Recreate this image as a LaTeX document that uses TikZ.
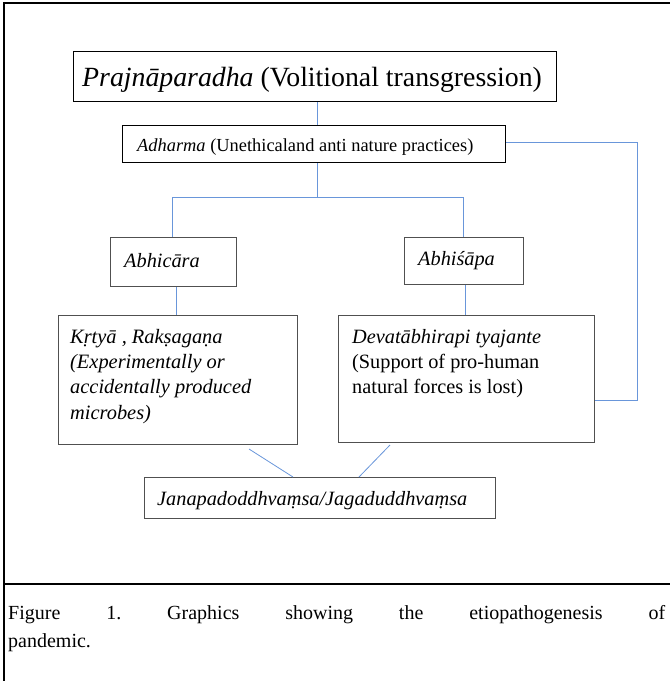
\documentclass[tikz,border=0pt]{standalone}
\usepackage{fontspec}
\setmainfont{Liberation Serif}
\usetikzlibrary{calc}
\definecolor{conn}{RGB}{105,150,218}
\definecolor{boxgray}{RGB}{80,80,80}
\tikzset{
  topbox/.style={draw=black, line width=1.2pt, rectangle, inner sep=0pt, anchor=north west},
  subbox/.style={draw=boxgray, line width=1pt, rectangle, inner sep=0pt, anchor=north west},
  link/.style={draw=conn, line width=0.8pt},
  frame/.style={draw=black, line width=2pt}
}
\begin{document}
\frenchspacing
\begin{tikzpicture}[x=1pt,y=-1pt]
\useasboundingbox (0,0) rectangle (670,681);
% outer frame
\draw[frame] (4,681) -- (4,3) -- (670,3);
\draw[frame] (4,584) -- (670,584);
% boxes
\node[topbox, minimum width=483pt, minimum height=50pt] (prajna) at (73,51) {};
\node[anchor=west, inner sep=0pt, font=\fontsize{27.8}{32}\selectfont] (prajnat) at (82,80) {\textit{Prajnāparadha} (Volitional transgression)};
\node[topbox, minimum width=383pt, minimum height=37pt] (adharma) at (122,125) {};
\node[anchor=west, inner sep=0pt, font=\fontsize{18.4}{22}\selectfont] (adharmat) at (137,147) {\textit{Adharma} (Unethicaland anti nature practices)};
\node[subbox, minimum width=126pt, minimum height=49pt] (abhicara) at (110,237) {};
\node[anchor=west, inner sep=0pt, font=\fontsize{20.3}{24}\selectfont\itshape] (abhicarat) at (124,261) {Abhicāra};
\node[subbox, minimum width=119pt, minimum height=47pt] (abhisapa) at (404,237) {};
\node[anchor=west, inner sep=0pt, font=\fontsize{20.3}{24}\selectfont\itshape] (abhisapat) at (418,261) {Abhiśāpa};
\node[subbox, minimum width=239pt, minimum height=129pt] (krtya) at (58,315) {};
\node[anchor=north west, inner sep=0pt, align=left, font=\fontsize{20.4}{25.3}\selectfont\itshape] (krtyat) at (70,329) {Kṛtyā , Rakṣagaṇa\\(Experimentally or\\accidentally produced\\microbes)};
\node[subbox, minimum width=256pt, minimum height=127pt] (devata) at (338,315) {};
\node[anchor=north west, inner sep=0pt, align=left, font=\fontsize{20.3}{25.3}\selectfont] (devatat) at (352,329) {\textit{Devatābhirapi tyajante}\\(Support of pro-human\\natural forces is lost)};
\node[subbox, minimum width=351pt, minimum height=41pt] (jana) at (144,477) {};
\node[anchor=west, inner sep=0pt, font=\fontsize{20.3}{24}\selectfont\itshape] (janat) at (157,501) {Janapadoddhvaṃsa/Jagaduddhvaṃsa};
% connectors
\coordinate (jc) at (317,197);
\coordinate (jl) at (172,197);
\coordinate (jr) at (463,197);
\coordinate (rc1) at (637,142);
\coordinate (rc2) at (637,400);
\coordinate (d1a) at (249,449);
\coordinate (d1b) at (293,477);
\coordinate (d2a) at (390,445);
\coordinate (d2b) at (359,477);
\draw[link] (prajna.south -| jc) -- (adharma.north -| jc);
\draw[link] (adharma.south -| jc) -- (jc);
\draw[link] (abhicara.north -| jl) -- (jl) -- (jr) -- (abhisapa.north -| jr);
\draw[link] ([xshift=3pt]abhicara.south) -- ([xshift=3pt]abhicara.south |- krtya.north);
\draw[link] ([xshift=1.5pt]abhisapa.south) -- ([xshift=1.5pt]abhisapa.south |- devata.north);
\draw[link] (adharma.east |- rc1) -- (rc1) -- (rc2) -- (devata.east |- rc2);
\draw[link] (d1a) -- (d1b);
\draw[link] (d2a) -- (d2b);
% caption
\node[anchor=north west, inner sep=0pt, font=\fontsize{20}{28}\selectfont] (caption) at (8,605) {\parbox{657pt}{Figure 1. Graphics showing the etiopathogenesis of\linebreak pandemic.}};
\end{tikzpicture}
\end{document}
